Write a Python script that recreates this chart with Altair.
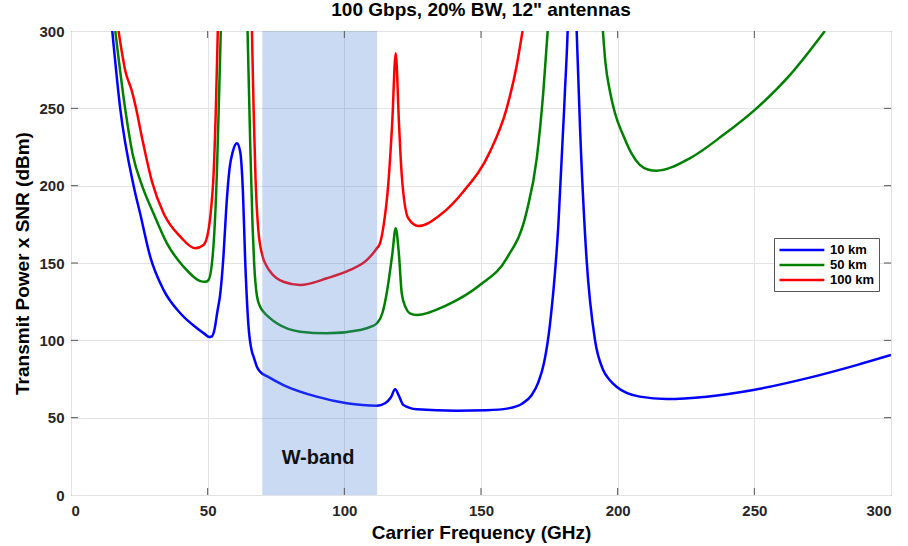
import altair as alt
import pandas as pd

# ---- data ----
series_names = ["10 km", "50 km", "100 km"]
series_colors = ["#0000ff", "#008000", "#ff0000"]

freq_10km = [15.1, 18.0, 22.9, 25.3, 29.0, 33.9, 40.0, 46.1, 49.0, 50.5, 51.5, 52.5, 53.5, 54.6, 55.8,
             56.8, 58.0, 59.2, 60.7, 61.9, 62.9, 63.7, 64.9, 66.2, 66.8, 68.0, 69.2, 72.0, 77.7,
             89.9, 100.9, 111.9, 114.9, 117.0, 118.6, 120.0, 121.6, 126.5, 141.0, 152.0, 160.0,
             165.0, 168.5, 171.0, 173.0, 175.2, 178.3, 180.7, 181.7, 183.3, 185.0, 186.2, 188.6,
             191.7, 194.7, 197.0, 199.6, 208.1, 217.9, 232.5, 249.6, 269.1, 287.4, 300.0]
tp_10km = [300, 250, 200, 182, 154, 132.5, 117.5, 107.8, 104, 102.2, 102.5, 107, 118, 130, 155,
           185.4, 211, 222, 227.4, 222, 196, 153, 110, 92.6, 89.4, 83, 79.7, 76.5, 71.1,
           63.6, 59.3, 57.7, 59.3, 63, 68.3, 64, 58.2, 55.4, 54.5, 54.8, 56,
           59, 64.5, 73, 85, 109.9, 174.6, 260.7, 300, 420, 300, 239, 153,
           100.2, 80.8, 74.5, 70, 63.6, 62.1, 63.6, 67.9, 75.4, 84, 90.5]

freq_50km = [16.2, 19.8, 22.6, 26.0, 30.2, 35.1, 41.2, 47.3, 49.0, 50.3, 52.1, 53.4, 54.2, 54.8, 59.5,
             64.6, 65.6, 66.4, 67.0, 68.0, 69.2, 70.4, 72.9, 75.3, 83.8, 93.6, 105.8, 110.0, 111.9,
             114.0, 115.5, 117.5, 118.8, 120.0, 121.0, 122.5, 124.0, 126.5, 137.5, 149.6, 159.4,
             166.7, 170.4, 172.8, 174.4, 184.0, 194.6, 195.5, 197.2, 199.0, 202.0, 205.0, 208.1,
             211.0, 214.2, 226.4, 238.6, 250.8, 263.0, 275.8]
tp_50km = [300, 250, 220, 200, 182, 162.7, 147.6, 138.3, 137.8, 139, 160.5, 210, 260, 300, 700,
           300, 225, 175, 150, 129, 121.7, 118.5, 114.2, 111, 105.6, 104.5, 106.7, 109, 111,
           118, 130.4, 155, 172.4, 155, 130.4, 121, 117.5, 116.4, 122.8, 135.8, 153,
           183.2, 217.7, 260.7, 300, 700, 300, 280, 260.7, 247, 232.7, 221, 213.4,
           210.5, 209.7, 217.7, 232.7, 250, 271.5, 300]

freq_100km = [17.4, 19.9, 22.3, 23.8, 26.0, 29.6, 33.9, 40.0, 45.4, 48.5, 50.3, 51.3, 52.1, 53.0, 53.7,
              60.0, 66.2, 66.8, 67.5, 68.5, 70.0, 71.7, 72.9, 77.7, 83.8, 93.6, 102.1, 108.2, 111.9,
              113.1, 114.3, 116.1, 117.5, 118.8, 120.0, 121.0, 123.4, 127.1, 135.0, 143.5, 153.3,
              159.4, 163.1, 165.2]
tp_100km = [300, 274, 261, 250, 230.8, 202.8, 182, 167, 159.5, 161.6, 171.3, 186, 205, 250, 300,
            800, 300, 250, 205, 172, 155, 147.6, 144.4, 137.9, 135.8, 140.1, 145.5, 151.9, 159.5,
            163, 173.5, 201.5, 240, 285.6, 240, 206.9, 178.9, 173.9, 181, 196.1, 222,
            250, 278, 300]

x_ticks = [0, 50, 100, 150, 200, 250, 300]
y_ticks = [0, 50, 100, 150, 200, 250, 300]
inner_ticks = [50, 100, 150, 200, 250]

wband_start = [70]
wband_end = [112]
wband_text = ["W-band"]
wband_text_x = [90.4]
wband_text_y = [24]

TITLE = "100 Gbps, 20% BW, 12\" antennas"
X_TITLE = "Carrier Frequency (GHz)"
Y_TITLE = "Transmit Power x SNR (dBm)"

# ---- tables ----
rows = []
for name, fs, vs in zip(series_names, [freq_10km, freq_50km, freq_100km],
                        [tp_10km, tp_50km, tp_100km]):
    for f, v in zip(fs, vs):
        rows.append({"f": f, "v": v, "series": name})
df = pd.DataFrame(rows)

band_df = pd.DataFrame({"x0": wband_start, "x1": wband_end, "y0": [y_ticks[0]], "y1": [y_ticks[-1]]})
label_df = pd.DataFrame({"x": wband_text_x, "y": wband_text_y, "t": wband_text})
tick_df = pd.DataFrame({"t": inner_ticks})

FONT = "Liberation Sans"
xs = alt.Scale(domain=[0, 300], nice=False, zero=False)
ys = alt.Scale(domain=[0, 300], nice=False, zero=False)

lines = alt.Chart(df).mark_line(strokeWidth=2.5, clip=True, interpolate="monotone").encode(
    x=alt.X("f:Q", scale=xs, title=X_TITLE,
            axis=alt.Axis(values=x_ticks, labelPadding=8, titlePadding=5)),
    y=alt.Y("v:Q", scale=ys, title=Y_TITLE,
            axis=alt.Axis(values=y_ticks, labelPadding=7, titlePadding=6)),
    color=alt.Color("series:N", sort=series_names,
                    scale=alt.Scale(domain=series_names, range=series_colors),
                    legend=alt.Legend(title=None, orient="none", legendX=703, legendY=207,
                                      symbolType="M-1,0H5.9", symbolSize=169, symbolStrokeWidth=2.5,
                                      labelFont=FONT, labelFontWeight="bold", labelFontSize=13,
                                      labelColor="#000000", labelOffset=36,
                                      strokeColor="#555555", fillColor="#ffffff",
                                      padding=4, rowPadding=0)),
)

band = alt.Chart(band_df).mark_rect(color="#4f86d6", opacity=0.3).encode(
    x=alt.X("x0:Q", scale=xs, title=X_TITLE), x2="x1:Q",
    y=alt.Y("y0:Q", scale=ys, title=Y_TITLE), y2="y1:Q",
)

label = alt.Chart(label_df).mark_text(font=FONT, fontWeight="bold", fontSize=20, color="#111111").encode(
    x=alt.X("x:Q", scale=xs, title=X_TITLE), y=alt.Y("y:Q", scale=ys, title=Y_TITLE), text="t:N"
)

tick_color = "#555555"
top_ticks = alt.Chart(tick_df).mark_rule(color=tick_color).encode(
    x=alt.X("t:Q", scale=xs, title=X_TITLE), y=alt.value(0), y2=alt.value(7))
bottom_ticks = alt.Chart(tick_df).mark_rule(color=tick_color).encode(
    x=alt.X("t:Q", scale=xs, title=X_TITLE), y=alt.value(464), y2=alt.value(457))
left_ticks = alt.Chart(tick_df).mark_rule(color=tick_color).encode(
    y=alt.Y("t:Q", scale=ys, title=Y_TITLE), x=alt.value(0), x2=alt.value(7))
right_ticks = alt.Chart(tick_df).mark_rule(color=tick_color).encode(
    y=alt.Y("t:Q", scale=ys, title=Y_TITLE), x=alt.value(820), x2=alt.value(813))

chart = alt.layer(lines, band, label, top_ticks, bottom_ticks, left_ticks, right_ticks).properties(
    width=820, height=464,
    background="#ffffff",
    title=alt.TitleParams(TITLE, font=FONT, fontSize=19,
                          fontWeight="bold", color="#000000", anchor="middle", offset=4),
    autosize=alt.AutoSizeParams(type="none"),
    padding={"left": 71, "top": 31, "right": 17, "bottom": 51},
).configure_view(stroke="#555555", strokeWidth=1).configure_axis(
    labelFont=FONT, labelFontWeight="bold", labelFontSize=15, labelColor="#262626",
    titleFont=FONT, titleFontWeight="bold", titleFontSize=19, titleColor="#000000",
    domain=False, ticks=False, grid=True, gridColor="#e3e3e3", gridWidth=1,
)

chart.save("out.html", embed_options={"renderer": "svg", "actions": False})
